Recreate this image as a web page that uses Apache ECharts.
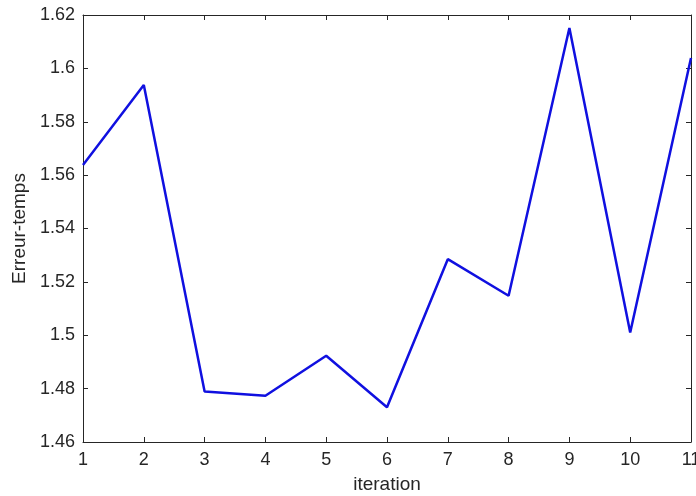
<!DOCTYPE html>
<html>
<head>
<meta charset="utf-8">
<script src="https://cdn.jsdelivr.net/npm/echarts@6/dist/echarts.min.js"></script>
<style>
html, body { margin: 0; padding: 0; background: #fff; }
#chart { width: 696px; height: 496px; }
</style>
</head>
<body>
<div id="chart"></div>
<script>
var iterations = [1, 2, 3, 4, 5, 6, 7, 8, 9, 10, 11]
var erreurTemps = [1.5638, 1.5938, 1.4789, 1.4773, 1.4923, 1.4730, 1.5285, 1.5148, 1.6151, 1.5010, 1.6039]
var yTicks = [1.46, 1.48, 1.5, 1.52, 1.54, 1.56, 1.58, 1.6, 1.62]

var chart = echarts.init(document.getElementById('chart'))
var font = 'Liberation Sans, Arial, sans-serif'
var axisCol = '#262626'

// boite style matlab : axes du haut et de droite sans labels
function boxAxis(pos, isX) {
  return {
    type: 'value',
    position: pos,
    min: isX ? 1 : 1.46,
    max: isX ? 11 : 1.62,
    interval: isX ? 1 : 0.02,
    axisLine: { show: true, onZero: false, lineStyle: { color: axisCol, width: 1 } },
    axisTick: { show: true, inside: true, length: 5, lineStyle: { color: axisCol } },
    axisLabel: { show: false },
    splitLine: { show: false }
  }
}

chart.setOption({
  animation: false,
  grid: { left: 83, right: 5, top: 15, bottom: 54, outerBoundsMode: 'none' },
  xAxis: [{
    type: 'value',
    position: 'bottom',
    min: 1,
    max: 11,
    interval: 1,
    name: 'iteration',
    nameLocation: 'middle',
    nameGap: 33,
    nameTextStyle: { fontFamily: font, fontSize: 19, color: axisCol },
    axisLine: { show: true, onZero: false, lineStyle: { color: axisCol, width: 1 } },
    axisTick: { show: true, inside: true, length: 5, lineStyle: { color: axisCol } },
    axisLabel: { fontFamily: font, fontSize: 18, color: axisCol, margin: 9, showMaxLabel: true, hideOverlap: false },
    splitLine: { show: false }
  }, boxAxis('top', true)],
  yAxis: [{
    type: 'value',
    position: 'left',
    min: yTicks[0],
    max: yTicks[yTicks.length - 1],
    interval: 0.02,
    name: 'Erreur-temps',
    nameLocation: 'middle',
    nameGap: 48,
    nameTextStyle: { fontFamily: font, fontSize: 19, color: axisCol },
    axisLine: { show: true, onZero: false, lineStyle: { color: axisCol, width: 1 } },
    axisTick: { show: true, inside: true, length: 5, lineStyle: { color: axisCol } },
    axisLabel: {
      fontFamily: font, fontSize: 18, color: axisCol, margin: 8, padding: [4, 0, 0, 0],
      formatter: function (v) { return String(parseFloat(v.toFixed(2))) }
    },
    splitLine: { show: false }
  }, boxAxis('right', false)],
  series: [{
    type: 'line',
    xAxisIndex: 0,
    yAxisIndex: 0,
    data: iterations.map(function (it, i) { return [it, erreurTemps[i]] }),
    showSymbol: false,
    lineStyle: { color: '#1010e0', width: 2.5 },
    clip: false
  }]
})
</script>
</body>
</html>
